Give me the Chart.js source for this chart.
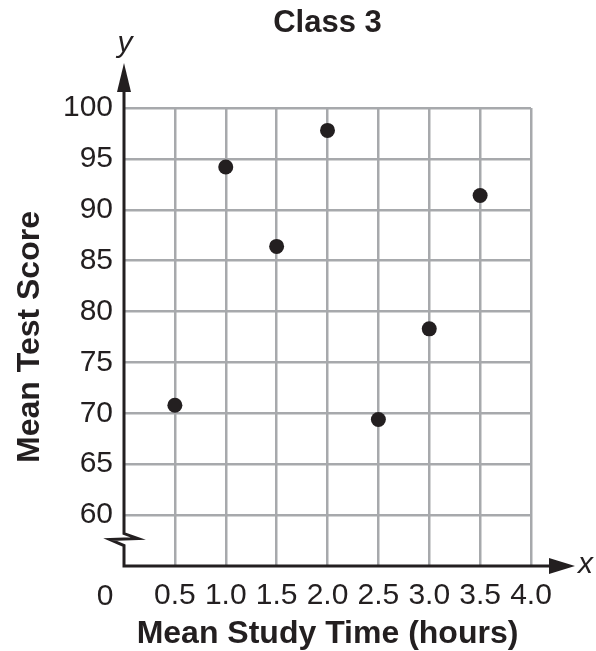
<!DOCTYPE html>
<html>
<head>
<meta charset="utf-8">
<script src="https://cdn.jsdelivr.net/npm/chart.js@4"></script>
<style>
  html, body { margin: 0; padding: 0; background: #ffffff; }
  #wrap { width: 596px; height: 651px; }
</style>
</head>
<body>
<div id="wrap"><canvas id="c" width="596" height="651"></canvas></div>
<script>
// ---- data ----
const chartTitle = 'Class 3';
const xAxisTitle = 'Mean Study Time (hours)';
const yAxisTitle = 'Mean Test Score';
const studyTime = [0.5, 1.0, 1.5, 2.0, 2.5, 3.0, 3.5];
const testScore = [70.8, 94.2, 86.4, 97.8, 69.4, 78.3, 91.4];
const xTickValues = [0, 0.5, 1.0, 1.5, 2.0, 2.5, 3.0, 3.5, 4.0];
const yTickValues = [60, 65, 70, 75, 80, 85, 90, 95, 100];
const xRange = [0, 4];
const yRange = [55, 100];
const originLabel = '0';

const INK = '#231f20';
const GRID = '#a7a9ac';
const FONT = "'Liberation Sans', Arial, Helvetica, sans-serif";

const axesPlugin = {
  id: 'axesDecor',
  afterDraw(chart) {
    const { ctx, chartArea } = chart;
    const xs = chart.scales.x, ys = chart.scales.y;
    const x0 = xs.getPixelForValue(xRange[0]);
    const yb = ys.getPixelForValue(yRange[0]);
    const brk = ys.getPixelForValue(57.6);
    ctx.save();
    ctx.strokeStyle = INK;
    ctx.fillStyle = INK;
    ctx.lineWidth = 3;
    ctx.lineJoin = 'miter';
    // y axis with break, then x axis
    const yArrowBase = chartArea.top - 17;
    ctx.beginPath();
    ctx.moveTo(x0, yArrowBase);
    ctx.lineTo(x0, brk - 6);
    ctx.lineTo(x0 + 14, brk - 1);
    ctx.lineTo(x0 - 14, brk);
    ctx.lineTo(x0, brk + 6);
    ctx.lineTo(x0, yb);
    const xArrowBase = chartArea.right + 20;
    ctx.lineTo(xArrowBase, yb);
    ctx.stroke();
    // y arrow head
    ctx.beginPath();
    ctx.moveTo(x0, chartArea.top - 45);
    ctx.lineTo(x0 + 7, yArrowBase + 1);
    ctx.lineTo(x0 - 7, yArrowBase + 1);
    ctx.closePath();
    ctx.fill();
    // x arrow head
    ctx.beginPath();
    ctx.moveTo(chartArea.right + 44, yb);
    ctx.lineTo(xArrowBase - 2, yb - 8);
    ctx.lineTo(xArrowBase - 2, yb + 8);
    ctx.closePath();
    ctx.fill();
    // axis letters
    ctx.font = 'italic 30px ' + FONT;
    ctx.textAlign = 'center';
    ctx.textBaseline = 'alphabetic';
    ctx.fillText('y', x0 + 1, chartArea.top - 56);
    ctx.textAlign = 'left';
    ctx.fillText('x', chartArea.right + 47, yb + 7);
    // origin label
    ctx.font = '30px ' + FONT;
    ctx.textAlign = 'center';
    ctx.textBaseline = 'middle';
    const lbl = xs._labelItems ? xs._labelItems.find(it => it.label !== '') : null;
    const ly = lbl ? lbl.options ? yb + 30 : yb + 30 : yb + 30;
    ctx.fillText(originLabel, x0 - 19, yb + 31);
    ctx.restore();
  }
};

new Chart(document.getElementById('c'), {
  type: 'scatter',
  data: {
    datasets: [{
      data: studyTime.map((t, i) => ({ x: t, y: testScore[i] })),
      backgroundColor: INK,
      borderColor: INK,
      borderWidth: 0,
      pointRadius: 7.5,
      pointHoverRadius: 7.5
    }]
  },
  options: {
    responsive: false,
    animation: false,
    events: [],
    layout: { padding: { top: 0, right: 65, bottom: 0, left: 0 } },
    plugins: {
      legend: { display: false },
      tooltip: { enabled: false },
      title: {
        display: true,
        text: chartTitle,
        fullSize: false,
        color: INK,
        font: { family: FONT, size: 31, weight: 'bold', lineHeight: 1 },
        padding: { top: 8, bottom: 69 }
      }
    },
    scales: {
      x: {
        type: 'linear',
        min: xRange[0],
        max: xRange[1],
        afterBuildTicks(scale) { scale.ticks = xTickValues.map(v => ({ value: v })); },
        afterFit(scale) { scale.height = 85; },
        border: { display: false },
        grid: {
          color: ctx => (ctx.tick && ctx.tick.value === xRange[0]) ? 'rgba(0,0,0,0)' : GRID,
          lineWidth: 2.5,
          drawTicks: false
        },
        ticks: {
          autoSkip: false,
          maxRotation: 0,
          padding: 12,
          color: INK,
          font: { family: FONT, size: 30, lineHeight: 1.2 },
          callback: v => v === xRange[0] ? '' : Number(v).toFixed(1)
        },
        title: {
          display: true,
          text: xAxisTitle,
          color: INK,
          font: { family: FONT, size: 32, weight: 'bold', lineHeight: 1 },
          padding: { top: 0, bottom: 1 }
        }
      },
      y: {
        type: 'linear',
        min: yRange[0],
        max: yRange[1],
        afterBuildTicks(scale) { scale.ticks = [yRange[0]].concat(yTickValues).map(v => ({ value: v })); },
        afterFit(scale) { scale.width = 124; },
        border: { display: false },
        grid: {
          color: ctx => (ctx.tick && ctx.tick.value === yRange[0]) ? 'rgba(0,0,0,0)' : GRID,
          lineWidth: 2.5,
          drawTicks: false
        },
        ticks: {
          padding: 11,
          color: INK,
          font: { family: FONT, size: 30, lineHeight: 1.2 },
          callback: v => v === yRange[0] ? '' : String(v)
        },
        title: {
          display: true,
          text: yAxisTitle,
          color: INK,
          font: { family: FONT, size: 32, weight: 'bold', lineHeight: 1 },
          padding: { top: 14, bottom: 0 }
        }
      }
    }
  },
  plugins: [axesPlugin]
});
</script>
</body>
</html>
